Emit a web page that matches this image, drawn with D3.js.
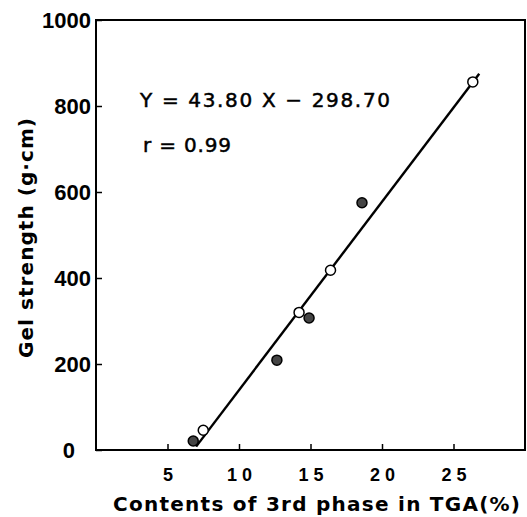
<!DOCTYPE html>
<html>
<head>
  <style>
    body { margin: 0; background: #fff; }
    svg { display: block; font-family: "DejaVu Sans", sans-serif; }
  </style>
</head>
<body>
  <svg width="527" height="517"></svg>
  <script src="https://d3js.org/d3.v7.min.js"></script>
  <script>
    // open circles and dotted (filled) circles
    const openX = [7.5, 14.2, 16.4, 26.35];
    const openY = [46, 320, 418, 856];
    const filledX = [6.8, 12.65, 14.9, 18.6];
    const filledY = [21, 209, 307, 575];

    const xTicks = [5, 10, 15, 20, 25];
    const yTicks = [0, 200, 400, 600, 800, 1000];

    const slope = 43.80, intercept = -298.70;
    const fitRange = [7.0, 26.8];

    const width = 527, height = 517;
    const plot = { left: 96, right: 525, top: 20, bottom: 450 };

    const svg = d3.select("svg").attr("viewBox", [0, 0, width, height]);

    const x = d3.scaleLinear().domain([0, 30]).range([plot.left, plot.right]);
    const y = d3.scaleLinear().domain([0, 1000]).range([plot.bottom, plot.top]);

    // frame
    svg.append("rect")
      .attr("x", plot.left).attr("y", plot.top)
      .attr("width", plot.right - plot.left).attr("height", plot.bottom - plot.top)
      .attr("fill", "none").attr("stroke", "#000").attr("stroke-width", 2);

    const xAxis = svg.append("g")
      .attr("transform", `translate(0,${plot.bottom})`)
      .call(d3.axisBottom(x).tickValues(xTicks).tickSizeInner(-6).tickSizeOuter(0).tickPadding(18));
    xAxis.select(".domain").remove();
    xAxis.selectAll("line").attr("stroke-width", 1.5);
    xAxis.selectAll("text")
      .attr("font-size", 18).attr("font-weight", "bold")
      .attr("letter-spacing", 5).attr("dx", 2.5).attr("fill", "#000");

    const yAxis = svg.append("g")
      .attr("transform", `translate(${plot.left},0)`)
      .call(d3.axisLeft(y).tickValues(yTicks).tickFormat(d3.format("d"))
        .tickSizeInner(-6).tickSizeOuter(0).tickPadding(5));
    yAxis.select(".domain").remove();
    yAxis.selectAll("line").attr("stroke-width", 1.5);
    yAxis.selectAll("text")
      .attr("font-size", 22).attr("font-weight", "bold").attr("fill", "#000");
    // the zero sits out at the corner
    yAxis.selectAll(".tick").filter(d => d === 0).select("text").attr("x", -21);

    // regression line
    svg.append("line")
      .attr("x1", x(fitRange[0])).attr("y1", y(slope * fitRange[0] + intercept))
      .attr("x2", x(fitRange[1])).attr("y2", y(slope * fitRange[1] + intercept))
      .attr("stroke", "#000").attr("stroke-width", 2.4);

    svg.append("g").selectAll("circle")
      .data(d3.zip(openX, openY))
      .join("circle")
      .attr("cx", d => x(d[0])).attr("cy", d => y(d[1])).attr("r", 5)
      .attr("fill", "#fff").attr("stroke", "#000").attr("stroke-width", 1.5);

    svg.append("g").selectAll("circle")
      .data(d3.zip(filledX, filledY))
      .join("circle")
      .attr("cx", d => x(d[0])).attr("cy", d => y(d[1])).attr("r", 5)
      .attr("fill", "#444").attr("stroke", "#000").attr("stroke-width", 1.5);

    // equation
    const eq = svg.append("g")
      .attr("font-size", 20).attr("stroke", "#000").attr("stroke-width", 0.5);
    eq.append("text")
      .attr("x", 140).attr("y", 107)
      .attr("textLength", 250).attr("lengthAdjust", "spacing")
      .text("Y = 43.80 X − 298.70");
    eq.append("text")
      .attr("x", 143).attr("y", 152)
      .attr("textLength", 88).attr("lengthAdjust", "spacing")
      .text("r = 0.99");

    // axis titles
    svg.append("text")
      .attr("x", 113).attr("y", 511)
      .attr("font-size", 20).attr("font-weight", "bold")
      .attr("textLength", 407).attr("lengthAdjust", "spacing")
      .text("Contents of 3rd phase in TGA(%)");

    svg.append("text")
      .attr("transform", "translate(33,358) rotate(-90)")
      .attr("font-size", 20).attr("font-weight", "bold")
      .attr("textLength", 240).attr("lengthAdjust", "spacing")
      .text("Gel  strength (g·cm)");
  </script>
</body>
</html>
